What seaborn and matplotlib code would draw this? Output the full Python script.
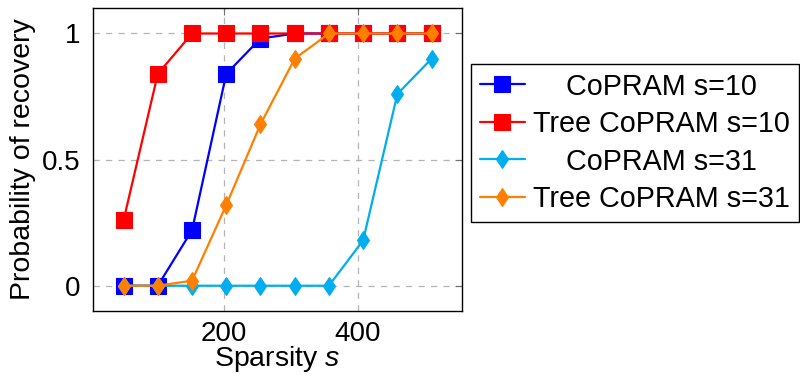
import numpy as np
import pandas as pd
import matplotlib
matplotlib.use("Agg")
import matplotlib.pyplot as plt
from matplotlib.markers import MarkerStyle
from matplotlib.transforms import Affine2D
import seaborn as sns

# ---- data ----
sparsity = [51, 102, 153, 204, 255, 306, 357, 408, 459, 510]
copram_s10 = [0.0, 0.0, 0.22, 0.84, 0.98, 1.0, 1.0, 1.0, 1.0, 1.0]
tree_copram_s10 = [0.26, 0.84, 1.0, 1.0, 1.0, 1.0, 1.0, 1.0, 1.0, 1.0]
copram_s31 = [0.0, 0.0, 0.0, 0.0, 0.0, 0.0, 0.0, 0.18, 0.76, 0.90]
tree_copram_s31 = [0.0, 0.0, 0.02, 0.32, 0.64, 0.90, 1.0, 1.0, 1.0, 1.0]
series_names = ["CoPRAM s=10", "Tree CoPRAM s=10", "CoPRAM s=31", "Tree CoPRAM s=31"]
x_ticks = [200, 400]
y_ticks = [0, 0.5, 1]
y_ticklabels = ["0", "0.5", "1"]

sns.set_theme(style="white")
plt.rcParams["font.family"] = ["Liberation Sans", "DejaVu Sans"]
plt.rcParams["mathtext.fontset"] = "custom"
plt.rcParams["mathtext.it"] = "Liberation Sans:italic"
plt.rcParams["text.color"] = "black"
plt.rcParams["axes.labelcolor"] = "black"
plt.rcParams["xtick.labelcolor"] = "black"
plt.rcParams["ytick.labelcolor"] = "black"

fig = plt.figure(figsize=(8.0, 3.76), dpi=100)
ax = fig.add_axes([0.116, 0.173, 0.462, 0.805])

diamond = MarkerStyle("D", transform=Affine2D().scale(0.75, 1.0))
styles = [
    dict(color="#0000ff", marker="s", ms=12),
    dict(color="#ff0000", marker="s", ms=12),
    dict(color="#00adef", marker=diamond, ms=8.8),
    dict(color="#ff8000", marker=diamond, ms=8.8),
]
values = [copram_s10, tree_copram_s10, copram_s31, tree_copram_s31]

for name, vals, st in zip(series_names, values, styles):
    df = pd.DataFrame({"s": sparsity, "p": vals})
    sns.lineplot(data=df, x="s", y="p", ax=ax, color=st["color"], marker=st["marker"],
                 markersize=st["ms"], markeredgecolor=st["color"], markeredgewidth=0.8,
                 linewidth=1.6, label=name, legend=False)

ax.set_xlim(5.1, 555.9)
ax.set_ylim(-0.1, 1.1)
ax.set_xticks(x_ticks)
ax.set_xticklabels([str(t) for t in x_ticks])
ax.set_yticks(y_ticks)
ax.set_yticklabels(y_ticklabels)
ax.grid(True, color="#b4b4b4", linestyle=(0, (5, 5)), linewidth=0.9)
ax.tick_params(axis="both", direction="in", length=5, width=0.8, color="#707070",
               labelcolor="black", top=True, right=True, labelsize=20, pad=9)
ax.tick_params(axis="x", pad=7)
for sp in ax.spines.values():
    sp.set_color("black")
    sp.set_linewidth(1.0)
ax.set_xlabel(r"Sparsity $s$", fontsize=20.5, labelpad=-2)
ax.set_ylabel("Probability of recovery", fontsize=20.5, labelpad=4)

handles, labels = ax.get_legend_handles_labels()
leg = fig.legend(handles, labels, loc="upper left", bbox_to_anchor=(0.589, 0.830),
                 fontsize=20.7, frameon=True, fancybox=False, edgecolor="black",
                 framealpha=1, handlelength=1.57, handletextpad=0.28,
                 borderpad=0.3, labelspacing=0.33, borderaxespad=0)
leg.get_frame().set_linewidth(1.0)

# center legend labels
fig.canvas.draw()
r = fig.canvas.get_renderer()
widths = [t.get_window_extent(r).width for t in leg.get_texts()]
wmax = max(widths)
for t, w in zip(leg.get_texts(), widths):
    t.set_position(((wmax - w) / 2.0, 0))

fig.savefig("out.png", dpi=100)
